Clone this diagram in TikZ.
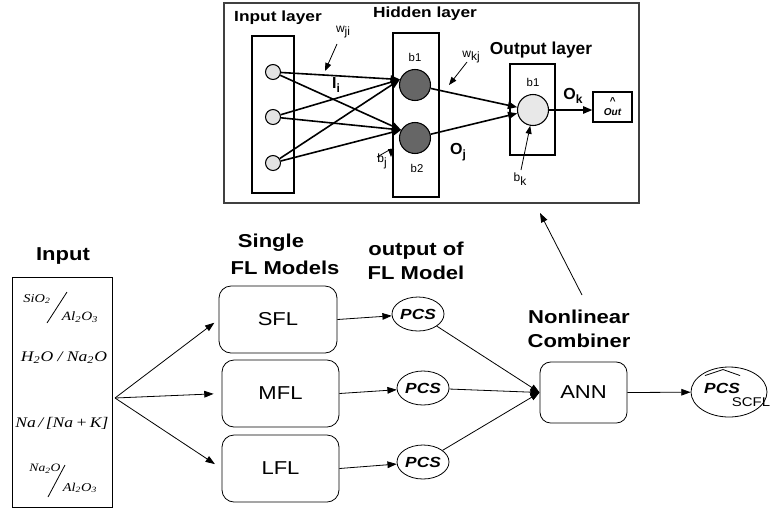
\documentclass[tikz,border=0pt]{standalone}
\usepackage{fontspec}
\usetikzlibrary{arrows.meta,shapes.geometric,calc}
\newfontfamily\sfw{Liberation Sans}[FakeStretch=1.18]
\newfontfamily\sfn{Liberation Sans}
\newfontfamily\rmw{Liberation Serif}[FakeStretch=1.2]
\newcommand{\fs}[1]{\fontsize{#1}{#1}\selectfont}

\tikzset{
  frame/.style={draw=black!75, line width=0.8pt, inner sep=0},
  layerbox/.style={draw, line width=0.9pt, inner sep=0},
  inode/.style={circle, draw, fill=gray!22, minimum size=11.25pt, inner sep=0, line width=0.8pt},
  hnode/.style={circle, draw, fill=black!60, minimum size=23.25pt, inner sep=0, line width=0.8pt},
  onode/.style={circle, draw, fill=gray!18, minimum size=23.25pt, inner sep=0, line width=0.8pt},
  nnarrow/.style={-{Triangle[length=7pt,width=5.5pt]}, line width=1.2pt},
  thinarrow/.style={-{Triangle[length=6pt,width=4.5pt]}, line width=0.6pt},
  flow/.style={-{Triangle[length=7pt,width=5pt]}, line width=0.6pt},
  model/.style={draw, rounded corners=9pt, minimum height=50.25pt, inner sep=0,
    line width=0.6pt, font=\sfw\fs{14}},
  pcsnode/.style={draw, ellipse, minimum width=39pt, minimum height=25.5pt, inner sep=0,
    line width=0.6pt, font=\sfw\bfseries\itshape\fs{11}},
  heading/.style={font=\sfw\bfseries\fontsize{14}{18}\selectfont, align=center, inner sep=0},
  nnhead/.style={font=\sfw\bfseries\fs{11}, inner sep=0},
  tiny/.style={font=\sfn\fs{8.5}, inner sep=0},
  idx/.style={font=\sfn\fs{9}, inner sep=0},
  sym/.style={font=\sfn\bfseries\fs{12}, inner sep=0},
  formula/.style={font=\rmw\itshape, inner sep=0},
  slash/.style={line width=0.6pt}
}

\begin{document}
\begin{tikzpicture}[x=0.75pt, y=-0.75pt]
\useasboundingbox (0,0) rectangle (770,508);

% ---------- neural network panel ----------
\node[frame, minimum width=311.25pt, minimum height=150pt] (panel) at (431.5,103) {};

\node[layerbox, minimum width=31.5pt, minimum height=117.75pt] (inlayer) at (273,114.5) {};
\node[layerbox, minimum width=34.5pt, minimum height=123pt] (hidlayer) at (416,115) {};
\node[layerbox, minimum width=33.75pt, minimum height=68.25pt] (outlayer) at (532.5,109.5) {};
\node[layerbox, minimum width=29.25pt, minimum height=22.5pt,
      font=\sfn\bfseries\itshape\fontsize{7.5}{6}\selectfont] (outbox) at (612.5,107)
      {\shortstack{\textasciicircum\\Out}};

\node[nnhead] (inlab) at (278,18) {Input layer};
\node[nnhead] (hidlab) at (425,14) {Hidden layer};
\node[font=\sfn\bfseries\fs{13}, inner sep=0] (outlab) at (541,50) {Output layer};

\node[inode] (i1) at (273,72) {};
\node[inode] (i2) at (273,117) {};
\node[inode] (i3) at (273,163) {};
\node[hnode] (h1) at (415,85) {};
\node[hnode] (h2) at (415,138) {};
\node[onode] (o1) at (533,110) {};

\node[tiny] (hb1) at (415,57) {b1};
\node[tiny] (hb2) at (417,168) {b2};
\node[tiny] (ob1) at (533,82) {b1};

\foreach \s in {i1,i2,i3} {
  \draw[nnarrow] (\s) -- (h1.160);
  \draw[nnarrow] (\s) -- (h2.150);
}
\draw[nnarrow] (h1) -- (o1.170);
\draw[nnarrow] (h2) -- (o1.192);
\draw[nnarrow] (o1) -- (outbox.west |- o1);

% weight, bias and signal labels
\node[idx] (wji) at (343,32) {w\raisebox{-0.6ex}{ji}};
\coordinate (wjiA) at (337,44);
\coordinate (wjiB) at (325,71);
\draw[thinarrow] (wjiA) -- (wjiB);
\node[sym] (ii) at (336,85) {I\raisebox{-0.5ex}{\fs{9}i}};

\node[idx] (wkj) at (471,57) {w\raisebox{-0.6ex}{kj}};
\coordinate (wkjA) at (467,62);
\coordinate (wkjB) at (449,85);
\draw[thinarrow] (wkjA) -- (wkjB);

\node[idx] (bj) at (382,161) {b\raisebox{-0.6ex}{j}};
\coordinate (bjA) at (377,157);
\coordinate (bjB) at (391,149);
\coordinate (bjC) at (391,157);
\draw[thinarrow] (bjA) -- (bjB) -- (bjC);

\node[sym] (oj) at (458,152) {O\raisebox{-0.5ex}{\fs{9}j}};

\node[idx] (bk) at (520,179) {b\raisebox{-0.6ex}{k}};
\coordinate (bkA) at (521,170);
\draw[thinarrow] (bkA) -- (o1.260);

\node[sym] (ok) at (573,96) {O\raisebox{-0.5ex}{\fs{9}k}};

% ---------- lower flow ----------
\node[heading] (inputhead) at (63,256) {Input};
\node[draw, line width=0.6pt, minimum width=75pt, minimum height=172.5pt, inner sep=0]
      (inputs) at (62,392) {};

% input ratios
\node[formula, font=\rmw\itshape\fs{9}] (f1n) at (37,299) {SiO\textsubscript{2}};
\node[formula, font=\rmw\itshape\fs{9.5}] (f1d) at (80,317) {Al\textsubscript{2}O\textsubscript{3}};
\coordinate (f1a) at (47,323);
\coordinate (f1b) at (67,292);
\draw[slash] (f1a) -- (f1b);

\node[formula, font=\rmw\itshape\fs{11}] (f2) at (64,358)
  {H\textsubscript{2}O / Na\textsubscript{2}O};
\node[formula, font=\rmw\itshape\fs{11}] (f3) at (62,423)
  {Na\,/\,[Na\,+\,K]};

\node[formula, font=\rmw\itshape\fs{8.5}] (f4n) at (45,469) {Na\textsubscript{2}O};
\node[formula, font=\rmw\itshape\fs{9}] (f4d) at (80,488) {Al\textsubscript{2}O\textsubscript{3}};
\coordinate (f4a) at (48,497);
\coordinate (f4b) at (65,465);
\draw[slash] (f4a) -- (f4b);

\node[heading] (single1) at (271,243) {Single};
\node[heading] (single2) at (285,268) {FL Models};
\node[heading, font=\sfw\bfseries\fontsize{14}{17.6}\selectfont] (outfl) at (416,261) {output of\\FL Model};
\node[heading] (comb) at (579,329) {Nonlinear\\Combiner};

\node[model, minimum width=88.5pt] (sfl) at (278,319.5) {SFL};
\node[model, minimum width=87.75pt] (mfl) at (280.5,393.5) {MFL};
\node[model, minimum width=87.75pt] (lfl) at (280.5,468.5) {LFL};

\node[pcsnode] (p1) at (418,314) {PCS};
\node[pcsnode] (p2) at (423,388) {PCS};
\node[pcsnode] (p3) at (423,462) {PCS};

\node[model, minimum width=65.25pt, minimum height=45.75pt, rounded corners=8pt] (ann) at (583.5,392.5) {ANN};

\node[draw, ellipse, line width=0.6pt, minimum width=57pt, minimum height=37.5pt, inner sep=0]
      (res) at (729,392) {};
\node[font=\sfw\bfseries\itshape\fs{11}, inner sep=0] (resmain) at (722,388) {PCS};
\node[font=\sfw\fs{9.5}, inner sep=0] (ressub) at (751,402) {SCFL};
\draw[line width=0.6pt] ($(resmain.north west)+(1,-7)$) -- ($(resmain.north)+(1,-13)$) -- ($(resmain.north east)+(0,-7)$);

\coordinate (fan) at (115,398);
\draw[flow, shorten >=4pt] (fan) -- (sfl.west);
\draw[flow, shorten >=6pt] (fan) -- (mfl.west);
\draw[flow, shorten >=6pt] (fan) -- (lfl.west);

\draw[flow] (sfl.east) -- (p1);
\draw[flow] (mfl.east) -- (p2);
\draw[flow] (lfl.east) -- (p3);

\draw[flow] (p1) -- (ann.west);
\draw[flow] (p2) -- (ann.west);
\draw[flow] (p3) -- (ann.west);

\draw[flow] (ann.east) -- (res);

\coordinate (upfrom) at (582,295);
\coordinate (upto) at (540,213);
\draw[flow] (upfrom) -- (upto);
\end{tikzpicture}
\end{document}
